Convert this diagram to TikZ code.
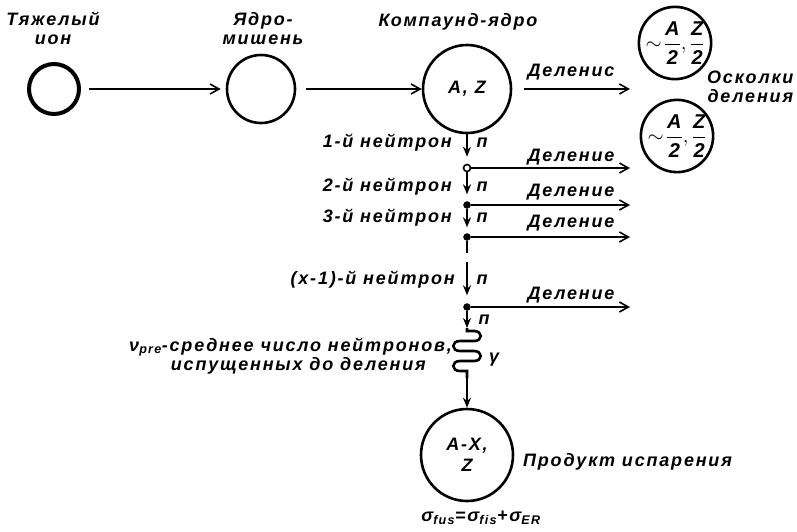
\documentclass[tikz,border=0pt]{standalone}
\usepackage{fontspec}
\setmainfont{Liberation Sans}[LetterSpace=10]
\usetikzlibrary{arrows.meta}
\begin{document}
\begin{tikzpicture}[x=1pt,y=-1pt,
  lbl/.style={font=\bfseries\itshape\fontsize{18}{19}\selectfont, inner sep=0pt, align=center},
  nuc/.style={circle, draw, line width=2.6pt, inner sep=0pt, font=\bfseries\itshape\fontsize{18}{21}\selectfont, align=center},
  frac/.style={nuc, font=\bfseries\itshape\fontsize{20}{22}\selectfont},
  dotf/.style={circle, fill, draw, inner sep=0pt, minimum size=7pt},
  doto/.style={circle, fill=white, draw, line width=1.6pt, inner sep=0pt, minimum size=7pt},
  harr/.style={line width=2.6pt, -{Straight Barb[length=9pt,width=10pt,line width=1.6pt]}},
  varr/.style={line width=2.6pt, -{Stealth[length=10pt,width=8pt]}},
  plain/.style={line width=2.6pt},
]
\useasboundingbox (0,0) rectangle (797,531);

% nuclei
\node[nuc, line width=4pt, minimum size=50pt] (ion) at (54,89) {};
\node[nuc, minimum size=68pt] (tgt) at (261,89) {};
\node[nuc, minimum size=88pt] (cn) at (467,89) {A, Z};
\node[frac, minimum size=72pt] (f1) at (675,43) {$\sim\!\displaystyle\frac{\mbox{A}}{\mbox{2}},\frac{\mbox{Z}}{\mbox{2}}$};
\node[frac, minimum size=72pt] (f2) at (677,136) {$\sim\!\displaystyle\frac{\mbox{A}}{\mbox{2}},\frac{\mbox{Z}}{\mbox{2}}$};
\node[nuc, minimum size=92pt] (ev) at (467,455) {A-X,\\Z};

% top labels
\node[lbl] (lion) at (53,28) {Тяжелый\\ион};
\node[lbl] (ltgt) at (263,29) {Ядро-\\мишень};
\node[lbl] (lcn) at (458,22) {Компаунд-ядро};
\node[lbl, anchor=west] (lfr) at (707,87) {Осколки\\деления};

% chain points
\node[doto] (d1) at (467,168) {};
\node[dotf] (d2) at (467,205) {};
\node[dotf] (d3) at (467,237) {};
\node[dotf] (d4) at (467,307) {};
\coordinate (g1) at (467,253);
\coordinate (g2) at (467,262);
\coordinate (c1) at (467,328);
\coordinate (c2) at (467,378);
\coordinate (e0) at (630,89);
\coordinate (e1) at (630,168);
\coordinate (e2) at (630,205);
\coordinate (e3) at (630,237);
\coordinate (e4) at (630,307);

% main arrows
\draw[harr, shorten <=8pt, shorten >=5pt] (ion) -- (tgt);
\draw[harr, shorten <=10pt] (tgt) -- (cn);
\draw[harr, shorten <=12pt] (cn) -- (e0);
\node[lbl] (lf0) at (571,72) {Деленис};

% neutron chain
\draw[varr, shorten >=7pt] (cn) -- (d1);
\draw[varr, shorten >=7pt] (d1) -- (d2);
\draw[varr, shorten >=6pt] (d2) -- (d3);
\draw[plain] (d3) -- (g1);
\draw[varr, shorten >=8pt] (g2) -- (d4);
\draw[varr] (d4) -- (c1);
\draw[plain] (c1) -- (467,331) -- (474,331) .. controls (483,331) and (483,341) .. (474,341) -- (460,341)
  .. controls (451,341) and (451,351) .. (460,351) -- (474,351)
  .. controls (483,351) and (483,361) .. (474,361) -- (460,361)
  .. controls (451,361) and (451,371) .. (460,371) -- (467,371) -- (c2);
\draw[varr] (c2) -- (ev);

% fission branches
\draw[harr] (d1) -- (e1);
\draw[harr] (d2) -- (e2);
\draw[harr] (d3) -- (e3);
\draw[harr] (d4) -- (e4);
\node[lbl] (lf1) at (571,157) {Деление};
\node[lbl] (lf2) at (571,192) {Деление};
\node[lbl] (lf3) at (571,223) {Деление};
\node[lbl] (lf4) at (571,295) {Деление};

% neutron labels
\node[lbl, anchor=east] (ln1) at (452,143) {1-й нейтрон};
\node[lbl, anchor=east] (ln2) at (452,187) {2-й нейтрон};
\node[lbl, anchor=east] (ln3) at (452,218) {3-й нейтрон};
\node[lbl, anchor=east] (ln4) at (455,280) {(x-1)-й нейтрон};
\node[lbl] (n1) at (482,143) {п};
\node[lbl] (n2) at (482,187) {п};
\node[lbl] (n3) at (482,218) {п};
\node[lbl] (n4) at (482,280) {п};
\node[lbl] (n5) at (484,320) {п};

\node[lbl, anchor=east] (nu1) at (452,347) {ν\textsubscript{pre}-среднее число нейтронов,};
\node[lbl, anchor=east] (nu2) at (426,366) {испущенных до деления};
\node[lbl] (gam) at (494,360) {γ};

\node[lbl, anchor=west] (lev) at (523,462) {Продукт испарения};
\node[lbl] (sig) at (481,518) {σ\textsubscript{fus}=σ\textsubscript{fis}+σ\textsubscript{ER}};
\end{tikzpicture}
\end{document}
